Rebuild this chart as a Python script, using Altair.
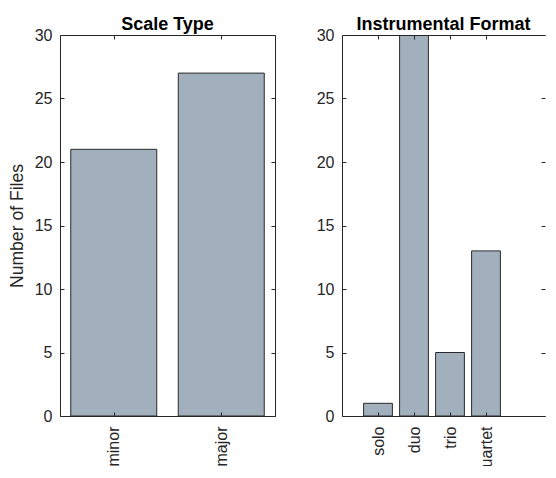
import json
import altair as alt
import pandas as pd

# ---- data ----
scale_types = ["minor", "major"]
scale_counts = [21, 27]

formats = ["solo", "duo", "trio", "quartet"]
format_counts = [1, 30, 5, 13]

y_ticks = [0, 5, 10, 15, 20, 25, 30]

FONT = "Liberation Sans"
TXT = "#262626"
BAR = "#a1b0bc"
EDGE = "#2a2a2a"
H = 381


def panel(cats, counts, title, width, xdomain, ytitle=None, right_border=True):
    n = len(cats)
    pos = list(range(1, n + 1))
    df = pd.DataFrame({"cat": cats, "count": counts, "pos": pos})
    label_expr = json.dumps(cats) + "[datum.value - 1]"
    xs = alt.Scale(domain=xdomain, nice=False, zero=False)
    ys = alt.Scale(domain=[0, 30], nice=False)
    base = alt.Chart(df).transform_calculate(
        x0="datum.pos - 0.4", x1="datum.pos + 0.4"
    )
    yaxis_kw = dict(
        orient="left", values=y_ticks, ticks=False, tickSize=0, labelPadding=8,
        labelFontSize=16, labelFont=FONT, labelColor=TXT, domainColor=TXT,
        grid=False, titleFont=FONT, titleFontSize=17.6, titleColor=TXT,
        titleFontWeight="normal", titlePadding=8,
    )
    yaxis_kw["title"] = ytitle if ytitle else None
    bars = base.mark_rect(fill=BAR, stroke=EDGE, strokeWidth=1, clip=True).encode(
        x=alt.X("x0:Q", scale=xs, axis=alt.Axis(
            orient="bottom", values=pos, labelExpr=label_expr, ticks=False, tickSize=0,
            labelAngle=270, labelPadding=10, labelFontSize=16, labelFont=FONT,
            labelColor=TXT, domainColor=TXT, grid=False, title=None)),
        x2="x1:Q",
        y=alt.Y("count:Q", scale=ys, axis=alt.Axis(**yaxis_kw)),
        y2=alt.datum(0),
    )
    ticks_a = base.mark_point(opacity=0).encode(
        x=alt.X("pos:Q", scale=xs, axis=alt.Axis(
            orient="top", offset=-H, values=pos, labels=False, domain=False,
            ticks=True, tickSize=4, tickColor=TXT, grid=False, title=None, zindex=1)),
        y=alt.Y("count:Q", scale=ys, axis=alt.Axis(
            orient="right", offset=-width, values=y_ticks, labels=False, domain=False,
            ticks=True, tickSize=4, tickColor=TXT, grid=False, title=None, zindex=1)),
    )
    ticks_b = base.mark_point(opacity=0).encode(
        x=alt.X("pos:Q", scale=xs, axis=alt.Axis(
            orient="bottom", offset=-H, values=pos, labels=False, domain=True,
            domainColor=TXT, ticks=True, tickSize=4, tickColor=TXT, grid=False,
            title=None, zindex=1)),
        y=alt.Y("count:Q", scale=ys, axis=alt.Axis(
            orient="left", offset=-width, values=y_ticks, labels=False,
            domain=right_border, domainColor=TXT, ticks=True, tickSize=4,
            tickColor=TXT, grid=False, title=None, zindex=1)),
    )
    return alt.layer(bars, ticks_a, ticks_b).resolve_axis(
        x="independent", y="independent"
    ).properties(
        width=width, height=H,
        title=alt.TitleParams(title, font=FONT, fontSize=18, fontWeight="bold",
                              color="#000000", offset=-7, anchor="middle"),
    )


left = panel(scale_types, scale_counts, "Scale Type", 215, [0.5, 2.5], "Number of Files")
right = panel(formats, format_counts, "Instrumental Format", 203, [0, 203 / 36],
              right_border=False)

chart = alt.hconcat(left, right, spacing=67, bounds="flush").configure_view(
    stroke=None
).properties(padding={"left": 0, "top": 8, "right": 0, "bottom": -10})

chart.save("out.html", embed_options={"renderer": "svg", "actions": False})
